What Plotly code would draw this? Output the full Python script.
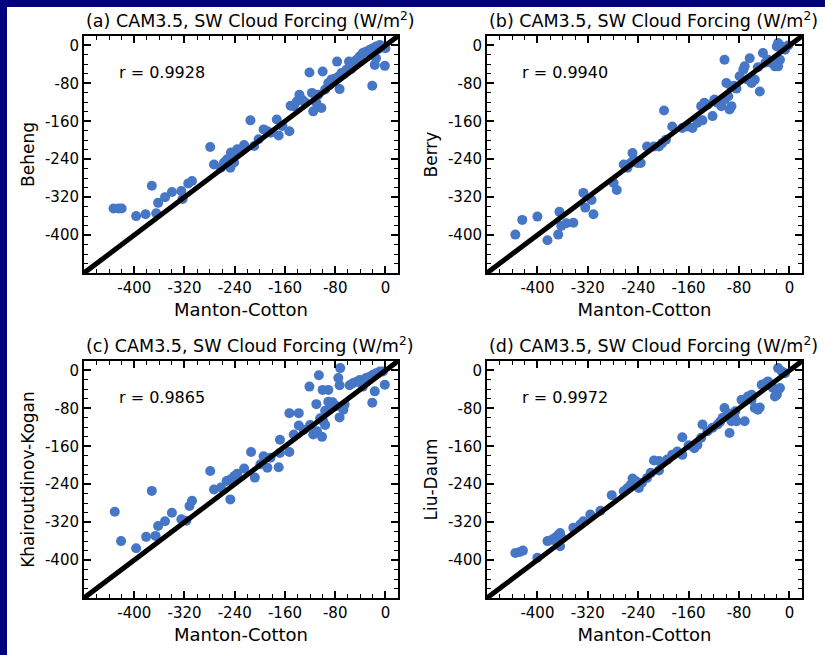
import plotly.graph_objects as go

# ---------------- data ----------------
titles = ["(a) CAM3.5, SW Cloud Forcing (W/m<sup>2</sup>)",
          "(b) CAM3.5, SW Cloud Forcing (W/m<sup>2</sup>)",
          "(c) CAM3.5, SW Cloud Forcing (W/m<sup>2</sup>)",
          "(d) CAM3.5, SW Cloud Forcing (W/m<sup>2</sup>)"]
ylabels = ["Beheng", "Berry", "Khairoutdinov-Kogan", "Liu-Daum"]
xlabel = "Manton-Cotton"
r_values = ["r = 0.9928", "r = 0.9940", "r = 0.9865", "r = 0.9972"]
tick_vals = [-400, -320, -240, -160, -80, 0]
tick_text = ["-400", "-320", "-240", "-160", "-80", "0"]
axis_range = [-480, 20]

a_x = [-433, -425, -420, -397, -382, -372, -365, -362, -351, -340, -325, -323, -314, -308,
       -279, -273, -262, -257, -252, -246, -241, -236, -225, -247, -241, -230, -215, -209,
       -202, -194, -188, -183, -173, -170, -164, -153, -151, -146, -141, -137, -133, -121,
       -117, -115, -110, -107, -102, -100, -96, -91, -86, -81, -75, -70, -77, -73, -62,
       -58, -52, -46, -41, -36, -31, -25, -20, -15, -9, -4, -21, -17, -1, -15, 0,
       -128, -90, -66, -55, -12, -6]
a_y = [-344, -344, -344, -360, -356, -296, -354, -332, -320, -309, -307, -324, -291, -286,
       -214, -251, -258, -247, -240, -226, -233, -219, -210, -258, -247, -222, -158, -212,
       -198, -177, -181, -184, -156, -190, -170, -181, -127, -128, -118, -104, -114, -57,
       -100, -139, -121, -104, -132, -55, -93, -79, -72, -70, -66, -58, -34, -92, -51,
       -34, -44, -30, -23, -16, -13, -9, -6, -2, 1, -2, -85, -41, -43, -27, -6,
       -120, -84, -60, -50, -8, -4]

b_x = [-435, -424, -400, -384, -367, -365, -362, -354, -343, -327, -324, -314, -311, -279,
       -274, -263, -257, -252, -247, -241, -236, -249, -226, -215, -207, -202, -196, -199,
       -186, -170, -162, -154, -146, -138, -140, -135, -122, -119, -114, -108, -103, -97,
       -95, -92, -103, -100, -92, -84, -79, -73, -71, -66, -60, -55, -47, -63, -42, -34,
       -28, -23, -18, -15, -20, -18, -12, -7, -130, -88, -50, -38, -2]
b_y = [-399, -368, -361, -411, -399, -351, -381, -375, -374, -311, -342, -326, -356, -290,
       -305, -251, -258, -248, -241, -248, -248, -227, -213, -213, -213, -206, -199, -137,
       -171, -174, -171, -174, -163, -158, -128, -121, -149, -114, -121, -128, -114, -107,
       -135, -128, -30, -79, -88, -91, -65, -51, -44, -72, -79, -72, -97, -27, -16, -30,
       -37, -44, -44, -30, -2, 5, -2, -9, -125, -85, -46, -36, 0]

c_x = [-431, -421, -397, -381, -372, -366, -362, -351, -340, -325, -317, -312, -308, -279,
       -273, -262, -253, -247, -241, -236, -225, -247, -214, -208, -199, -194, -188, -183,
       -170, -168, -168, -153, -153, -138, -138, -146, -121, -115, -109, -101, -96, -104,
       -99, -110, -106, -100, -91, -96, -91, -84, -78, -75, -72, -73, -73, -67, -65, -57,
       -52, -46, -41, -36, -31, -25, -20, -15, -9, -4, -21, -17, -1, -130, -120, -88]
c_y = [-298, -360, -375, -351, -254, -349, -328, -318, -300, -314, -317, -286, -275, -212,
       -251, -247, -233, -230, -223, -218, -207, -272, -172, -226, -198, -181, -205, -184,
       -204, -146, -174, -172, -90, -90, -116, -135, -34, -135, -128, -140, -115, -101,
       -107, -71, -10, -41, -41, -85, -66, -67, -75, -16, 5, -31, -99, -83, -72, -31,
       -27, -24, -20, -34, -16, -13, -9, -6, -2, -2, -68, -44, -30, -125, -115, -80]

d_x = [-435, -428, -423, -400, -384, -377, -372, -367, -364, -362, -370, -364, -343, -332,
       -327, -316, -282, -263, -257, -252, -249, -244, -239, -234, -226, -215, -207, -207,
       -202, -194, -186, -178, -170, -170, -151, -146, -140, -138, -130, -122, -114, -106,
       -103, -98, -95, -92, -87, -84, -86, -71, -76, -71, -66, -60, -55, -50, -47, -44,
       -38, -34, -26, -23, -20, -18, -15, -18, -12, -7, -300, -220, -160, -110, -60, -30]
d_y = [-385, -383, -380, -395, -360, -357, -353, -347, -343, -353, -360, -371, -332, -325,
       -318, -304, -263, -255, -248, -241, -228, -233, -248, -237, -227, -190, -191, -211,
       -195, -188, -178, -171, -178, -141, -164, -157, -142, -114, -128, -121, -114, -100,
       -79, -90, -132, -107, -100, -107, -86, -107, -62, -65, -55, -51, -79, -83, -78, -30,
       -27, -23, -37, -55, -51, -41, -37, 5, -2, -6, -296, -216, -158, -108, -62, -32]

panels_x = [a_x, b_x, c_x, d_x]
panels_y = [a_y, b_y, c_y, d_y]
line_xy = [-480, 20]

# ---------------- layout geometry ----------------
W, H = 825, 655
xdoms = [[84 / W, 398 / W], [487 / W, 802 / W]]
ydoms = [[(H - 273) / H, (H - 36) / H], [(H - 598) / H, (H - 361) / H]]

marker_color = "#4676C6"
font_family = "DejaVu Sans"

fig = go.Figure()

for i in range(4):
    row, col = divmod(i, 2)
    xa = "x" if i == 0 else f"x{i+1}"
    ya = "y" if i == 0 else f"y{i+1}"
    fig.add_trace(go.Scatter(x=panels_x[i], y=panels_y[i], mode="markers",
                             marker=dict(color=marker_color, size=10, line=dict(width=0)),
                             xaxis=xa, yaxis=ya, showlegend=False, hoverinfo="skip"))
    fig.add_trace(go.Scatter(x=line_xy, y=line_xy, mode="lines",
                             line=dict(color="black", width=5),
                             xaxis=xa, yaxis=ya, showlegend=False, hoverinfo="skip",
                             cliponaxis=False))

    axis_common = dict(range=axis_range, showgrid=False, zeroline=False,
                       showline=True, linecolor="black", linewidth=2, mirror="ticks",
                       ticks="inside", ticklen=7, tickwidth=1.5, tickcolor="black",
                       tickvals=tick_vals, ticktext=tick_text,
                       tickfont=dict(family=font_family, size=15, color="black"),
                       minor=dict(ticks="inside", ticklen=4, tickwidth=1.2,
                                  tickcolor="black", dtick=20, tick0=0),
                       fixedrange=True)
    xkey = "xaxis" if i == 0 else f"xaxis{i+1}"
    ykey = "yaxis" if i == 0 else f"yaxis{i+1}"
    fig.update_layout({
        xkey: dict(axis_common, domain=xdoms[col], anchor=ya,
                   title=dict(text=xlabel, font=dict(family=font_family, size=18, color="black"),
                              standoff=7)),
        ykey: dict(axis_common, domain=ydoms[row], anchor=xa,
                   title=dict(text=ylabels[i], font=dict(family=font_family, size=17, color="black"),
                              standoff=6)),
    })

    # panel title
    x_left, x_right = xdoms[col]
    y_top = ydoms[row][1]
    fig.add_annotation(text=titles[i], xref="paper", yref="paper",
                       x=(x_left + x_right) / 2 + 9 / W, y=y_top + 16 / H,
                       xanchor="center", yanchor="middle", showarrow=False,
                       font=dict(family=font_family, size=17.5, color="black"))
    # correlation text
    fig.add_annotation(text=r_values[i], xref=xa, yref=ya, x=-428, y=-56,
                       xanchor="left", yanchor="middle", showarrow=False,
                       font=dict(family=font_family, size=16, color="black"))

# dark blue frame on top and left
fig.add_shape(type="rect", xref="paper", yref="paper", x0=0, x1=1, y0=(H - 7) / H, y1=1,
              fillcolor="#00007F", line=dict(width=0), layer="below")
fig.add_shape(type="rect", xref="paper", yref="paper", x0=0, x1=7 / W, y0=0, y1=1,
              fillcolor="#00007F", line=dict(width=0), layer="below")

fig.update_layout(width=W, height=H, margin=dict(l=0, r=0, t=0, b=0),
                  paper_bgcolor="white", plot_bgcolor="white",
                  font=dict(family=font_family, color="black"))

fig.write_html("out.html", config={"displayModeBar": False})
